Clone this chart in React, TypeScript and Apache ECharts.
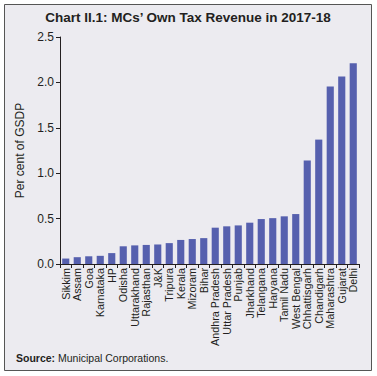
import React, { useEffect, useRef } from "react";
import * as echarts from "echarts";

const categories = [
  "Sikkim", "Assam", "Goa", "Karnataka", "HP", "Odisha", "Uttarakhand", "Rajasthan", "J&K",
  "Tripura", "Kerala", "Mizoram", "Bihar", "Andhra Pradesh", "Uttar Pradesh", "Punjab",
  "Jharkhand", "Telangana", "Haryana", "Tamil Nadu", "West Bengal", "Chhattisgarh",
  "Chandigarh", "Maharashtra", "Gujarat", "Delhi",
];
const values = [
  0.06, 0.075, 0.085, 0.09, 0.12, 0.195, 0.205, 0.21, 0.215,
  0.23, 0.265, 0.275, 0.285, 0.4, 0.415, 0.425,
  0.455, 0.495, 0.505, 0.525, 0.55, 1.14,
  1.37, 1.955, 2.065, 2.21,
];
const titleText = "Chart II.1: MCs\u2019 Own Tax Revenue in 2017-18";
const yAxisName = "Per cent of GSDP";

export default function App() {
  const ref = useRef<HTMLDivElement>(null);
  useEffect(() => {
    if (!ref.current) return;
    const chart = echarts.init(ref.current, null, { renderer: "svg" });
    const font = "Liberation Sans, Arial, Helvetica, sans-serif";
    chart.setOption({
      animation: false,
      backgroundColor: "#ffffff",
      graphic: [
        {
          type: "rect",
          shape: { x: 4.5, y: 4.5, width: 367, height: 366 },
          style: { fill: "#ECEBF0", stroke: "#555555", lineWidth: 1 },
          z: -10,
        },
        {
          type: "text",
          x: 188,
          y: 17,
          style: {
            text: titleText,
            font: `bold 13.5px ${font}`,
            fill: "#231f20",
            align: "center",
            verticalAlign: "middle",
          },
        },
        {
          type: "text",
          x: 16,
          y: 358,
          style: {
            text: "{b|Source:} Municipal Corporations.",
            rich: {
              b: { fontWeight: "bold", fontSize: 10.5, fontFamily: font, fill: "#231f20" },
            },
            font: `10.5px ${font}`,
            fill: "#231f20",
            verticalAlign: "middle",
          },
        },
      ],
      grid: { left: 60, right: 18, top: 37, bottom: 112, containLabel: false },
      xAxis: {
        type: "category",
        data: categories,
        boundaryGap: true,
        axisLine: { lineStyle: { color: "#231f20", width: 1 } },
        axisTick: { show: true, alignWithLabel: false, length: 4, lineStyle: { color: "#231f20" } },
        axisLabel: {
          interval: 0,
          rotate: 90,
          fontSize: 10.8,
          fontFamily: font,
          color: "#231f20",
          margin: 4,
        },
      },
      yAxis: {
        type: "value",
        min: 0,
        max: 2.5,
        interval: 0.5,
        name: yAxisName,
        nameLocation: "middle",
        nameGap: 28,
        nameTextStyle: { fontSize: 12, fontFamily: font, color: "#231f20" },
        splitLine: { show: false },
        axisLine: { show: true, lineStyle: { color: "#231f20", width: 1 } },
        axisTick: { show: true, length: 4, lineStyle: { color: "#231f20" } },
        axisLabel: {
          fontSize: 12,
          fontFamily: font,
          color: "#231f20",
          margin: 6,
          formatter: (v: number) => v.toFixed(1),
        },
      },
      series: [
        {
          type: "bar",
          data: values,
          barCategoryGap: "38%",
          itemStyle: { color: "#5660AE" },
        },
      ],
    });
    return () => chart.dispose();
  }, []);
  return (
    <div
      ref={ref}
      style={{ position: "fixed", left: 0, top: 0, width: 377, height: 376 }}
    />
  );
}
